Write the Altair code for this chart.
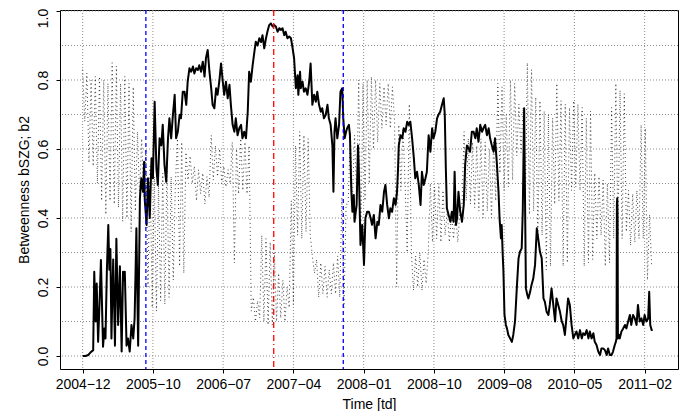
import json
import altair as alt
import pandas as pd

# ---- solid series: (trading day, value) ----
solid_points = [
    (0,0.0),(8,0.0),(16,0.003),(22,0.01),(30,0.017),(33,0.244),(37,0.10),(40,0.21),(44,0.041),(48,0.15),
    (52,0.278),(58,0.027),(62,0.08),(65,0.051),(69,0.25),(73,0.38),(76,0.25),(79,0.31),(82,0.051),(85,0.20),
    (87,0.28),(92,0.03),(96,0.34),(101,0.09),(106,0.26),(111,0.013),(115,0.244),(118,0.22),(120,0.244),(125,0.03),
    (129,0.051),(134,0.013),(139,0.09),(144,0.051),(148,0.11),(153,0.37),(158,0.03),(163,0.457),(167,0.515),(172,0.476),
    (175,0.563),(177,0.45),(182,0.38),(186,0.515),(191,0.40),(196,0.573),(200,0.515),(205,0.737),(210,0.544),(214,0.496),
    (219,0.631),(224,0.61),(228,0.670),(233,0.554),(238,0.505),(243,0.631),(247,0.689),(252,0.631),(257,0.699),(262,0.757),
    (266,0.631),(271,0.650),(276,0.699),(280,0.689),(285,0.766),(290,0.766),(295,0.728),(299,0.795),(304,0.834),(309,0.824),
    (314,0.839),(318,0.819),(323,0.834),(328,0.829),(332,0.843),(337,0.824),(342,0.853),(347,0.81),(351,0.863),(356,0.887),
    (361,0.824),(366,0.776),(370,0.728),(375,0.718),(380,0.776),(384,0.757),(389,0.795),(394,0.848),(399,0.795),(403,0.757),
    (408,0.795),(413,0.747),(418,0.786),(422,0.728),(427,0.670),(432,0.650),(436,0.689),(441,0.64),(446,0.66),(451,0.67),
    (455,0.631),(460,0.65),(465,0.631),(470,0.708),(474,0.824),(479,0.795),(484,0.843),(489,0.882),(493,0.911),(498,0.90),
    (503,0.921),(508,0.91),(512,0.930),
    (517,0.892),(522,0.921),(526,0.94),(531,0.959),(536,0.964),(541,0.955),(545,0.959),(550,0.955),(555,0.94),(560,0.95),
    (564,0.945),(569,0.95),(574,0.930),(578,0.94),(583,0.921),(588,0.926),(593,0.921),(597,0.897),(602,0.863),(607,0.776),
    (612,0.814),(614,0.757),(619,0.824),(621,0.776),(626,0.795),(630,0.766),(635,0.776),(640,0.757),(645,0.795),(649,0.848),
    (654,0.728),(659,0.757),(664,0.737),(668,0.766),(673,0.728),(678,0.708),(682,0.718),(687,0.689),(692,0.699),(697,0.728),
    (701,0.689),(706,0.670),(711,0.61),(714,0.476),(717,0.65),(720,0.689),(725,0.631),(730,0.670),(734,0.766),(739,0.776),
    (742,0.689),(746,0.631),(750,0.65),(753,0.66),(758,0.67),(761,0.64),(765,0.476),(768,0.418),(772,0.467),(774,0.389),
    (780,0.438),(784,0.61),(786,0.554),(791,0.322),(796,0.38),(801,0.264),(805,0.399),(810,0.418),
    (815,0.418),(820,0.399),(824,0.38),(829,0.409),(834,0.341),(839,0.389),(843,0.38),(848,0.438),(853,0.418),(858,0.476),
    (862,0.496),(867,0.438),(872,0.399),(876,0.428),(881,0.418),(886,0.457),(891,0.438),(895,0.476),(898,0.544),(900,0.61),
    (905,0.64),(910,0.631),(914,0.66),(919,0.65),(924,0.679),(928,0.67),(933,0.679),(938,0.631),(943,0.573),(947,0.515),
    (952,0.534),(957,0.496),(962,0.438),(966,0.534),(971,0.496),(976,0.515),(980,0.534),(985,0.64),(990,0.592),(995,0.66),
    (999,0.631),(1004,0.65),(1009,0.689),(1013,0.699),(1018,0.708),(1023,0.728),(1028,0.747),(1031,0.699),(1034,0.544),(1037,0.428),
    (1042,0.409),(1047,0.389),(1051,0.418),(1056,0.389),(1059,0.534),(1063,0.38),(1066,0.399),(1070,0.476),(1075,0.418),(1080,0.389),
    (1085,0.438),(1089,0.554),(1094,0.61),(1099,0.602),(1103,0.592),(1108,0.65),
    (1113,0.65),(1118,0.631),(1122,0.66),(1127,0.621),(1132,0.67),(1137,0.65),(1141,0.66),(1146,0.67),(1151,0.64),(1156,0.66),
    (1160,0.631),(1165,0.61),(1170,0.592),(1174,0.631),(1179,0.563),(1184,0.476),(1187,0.399),(1191,0.341),(1193,0.38),(1196,0.293),
    (1198,0.244),(1201,0.119),(1205,0.09),(1208,0.08),(1212,0.061),(1217,0.051),(1222,0.041),(1226,0.061),(1231,0.10),(1236,0.196),
    (1241,0.283),(1245,0.302),(1250,0.312),(1253,0.418),(1257,0.718),(1260,0.399),(1262,0.196),(1266,0.177),(1269,0.167),(1274,0.186),
    (1278,0.206),(1283,0.225),(1288,0.264),(1293,0.37),(1297,0.341),(1302,0.302),(1307,0.283),(1312,0.167),(1316,0.157),(1321,0.128),
    (1326,0.119),(1330,0.148),(1335,0.196),(1340,0.148),(1345,0.10),(1349,0.167),(1354,0.148),(1359,0.128),(1364,0.10),(1368,0.09),
    (1373,0.061),(1378,0.119),(1382,0.167),(1387,0.148),(1392,0.09),(1397,0.051),(1401,0.061),
    (1406,0.071),(1411,0.051),(1416,0.075),(1421,0.051),(1425,0.066),(1430,0.061),(1435,0.075),(1440,0.051),(1444,0.071),(1449,0.051),
    (1454,0.066),(1458,0.041),(1463,0.032),(1468,0.013),(1473,0.003),(1477,0.022),(1482,0.022),(1487,0.017),(1492,0.003),(1496,0.022),
    (1501,0.003),(1506,0.003),(1510,0.013),(1515,0.032),(1518,0.041),(1520,0.051),(1521,0.44),(1522,0.457),(1523,0.40),(1524,0.051),
    (1527,0.061),(1529,0.051),(1534,0.071),(1539,0.08),(1544,0.09),(1548,0.08),(1553,0.10),(1558,0.119),(1562,0.09),(1567,0.119),
    (1572,0.109),(1577,0.09),(1581,0.148),(1586,0.10),(1591,0.109),(1596,0.09),(1600,0.119),(1605,0.10),(1610,0.109),(1613,0.186),
    (1616,0.09),(1620,0.075),(1623,0.075),
]

# ---- dotted series: one value every 6 trading days ----
dotted_step = 6
dotted_val = [
    0.83, 0.68, 0.82,            # 0
    0.56, 0.80, 0.55,            # 18
    0.81, 0.50,                  # 36
    0.81, 0.45, 0.80,            # 48
    0.41, 0.79,                  # 66
    0.45, 0.85, 0.44, 0.84,      # 78
    0.43, 0.79,                  # 102
    0.39, 0.81,                  # 114
    0.40, 0.79, 0.36, 0.78, 0.42,  # 126
    0.65, 0.47, 0.63, 0.46, 0.60,  # 156
    0.20, 0.55, 0.14, 0.52, 0.13, 0.50,  # 186
    0.16, 0.53, 0.15, 0.55, 0.17, 0.52, 0.22,  # 222
    0.50,                        # 264
    0.63, 0.26, 0.62, 0.24,      # 270
    0.59, 0.51, 0.58, 0.50,      # 294
    0.55, 0.45, 0.54, 0.47, 0.53, 0.44, 0.52, 0.46,  # 318
    0.64,                        # 366
    0.51, 0.61, 0.52, 0.60, 0.50,  # 372
    0.55, 0.49, 0.54, 0.50,      # 402
    0.62, 0.27, 0.60,            # 426
    0.47, 0.63, 0.48, 0.62, 0.47,  # 444
    0.61,                        # 474
    0.13, 0.17, 0.10, 0.16, 0.11,  # 480
    0.35, 0.10, 0.34, 0.09,      # 510
    0.33, 0.09, 0.30,            # 534
    0.10, 0.24, 0.11, 0.22, 0.10, 0.20,  # 552
    0.14, 0.45, 0.15, 0.61,      # 588
    0.35, 0.65, 0.34, 0.64, 0.36, 0.63, 0.35,  # 612
    0.29, 0.24, 0.28,            # 654
    0.17, 0.27, 0.18, 0.26, 0.17, 0.25, 0.18, 0.27,  # 672
    0.18, 0.29, 0.17,            # 720
    0.46, 0.14, 0.44,            # 738
    0.44, 0.65, 0.45, 0.64, 0.46,  # 756
    0.80, 0.33, 0.79, 0.45, 0.80, 0.50, 0.81, 0.60,  # 786
    0.80, 0.62,                  # 834
    0.79, 0.66, 0.78, 0.67, 0.79, 0.66, 0.78, 0.68,  # 846
    0.20,                        # 894
    0.67, 0.48, 0.66, 0.50,      # 900
    0.30, 0.73, 0.30,            # 924
    0.19, 0.29, 0.20, 0.30, 0.19, 0.28, 0.21, 0.30,  # 942
    0.50, 0.33, 0.49, 0.34, 0.50, 0.33, 0.48, 0.35,  # 990
    0.42, 0.33, 0.41, 0.34, 0.42, 0.33, 0.42,  # 1038
    0.44, 0.65, 0.45, 0.63, 0.44, 0.62, 0.43, 0.61, 0.42,  # 1080
    0.63, 0.40, 0.62, 0.42, 0.60, 0.40, 0.62, 0.45,  # 1134
    0.79, 0.53, 0.78,            # 1182
    0.48, 0.70, 0.49,            # 1200
    0.80, 0.51, 0.79,            # 1218
    0.58, 0.73, 0.59, 0.72,      # 1236
    0.40, 0.85, 0.41, 0.83, 0.42,  # 1260
    0.75, 0.34, 0.74, 0.35,      # 1290
    0.71, 0.25, 0.70, 0.26, 0.69,  # 1314
    0.44, 0.79, 0.45,            # 1344
    0.74, 0.26, 0.73, 0.27, 0.72,  # 1362
    0.48, 0.74, 0.49, 0.73, 0.48, 0.72,  # 1392
    0.26, 0.69,                  # 1428
    0.27, 0.71, 0.28,            # 1440
    0.53, 0.34, 0.52, 0.35,      # 1458
    0.51, 0.26, 0.50, 0.27,      # 1482
    0.72, 0.34, 0.79, 0.35,      # 1506
    0.77, 0.34, 0.76, 0.36,      # 1530
    0.48, 0.32, 0.47, 0.33, 0.48, 0.34,  # 1554
    0.67, 0.34, 0.66,            # 1590
    0.22, 0.41, 0.26,            # 1608
]

tick_td = [0, 200, 400, 600, 800, 1000, 1200, 1400, 1600]
tick_lab = ["2004\u221212", "2005\u221210", "2006\u221207", "2007\u221204", "2008\u221201",
            "2008\u221210", "2009\u221208", "2010\u221205", "2011\u221202"]
y_ticks = [0.0, 0.2, 0.4, 0.6, 0.8, 1.0]
y_grid = [0.0, 0.1, 0.2, 0.3, 0.4, 0.5, 0.6, 0.7, 0.8, 0.9, 1.0]
blue_td = [180, 742]
red_td = [544]

solid_df = pd.DataFrame(solid_points, columns=["td", "v"])
dotted_df = pd.DataFrame({"td": [dotted_step * i for i in range(len(dotted_val))], "v": dotted_val})

W, H = 618, 359
xs = alt.Scale(domain=[-64.5, 1695], nice=False, zero=False)
ys = alt.Scale(domain=[-0.0377, 1.0029], nice=False, zero=False)
FONT = "Liberation Sans"

label_expr = "[" + ",".join(json.dumps(s, ensure_ascii=False) for s in tick_lab) + "][round(datum.value/200)]"

x_axis = alt.Axis(values=tick_td, labelExpr=label_expr, grid=False, domain=False,
                  tickSize=4, tickColor="black", labelPadding=15, labelBaseline="alphabetic",
                  labelFont=FONT, labelFontSize=14, labelColor="black", labelFlush=False,
                  labelOverlap=False, title="Time [td]", titleFont=FONT, titleFontSize=14,
                  titleFontWeight="normal", titleColor="black", titleX=W / 2, titleY=39,
                  titleBaseline="alphabetic", titleAlign="center")
y_axis = alt.Axis(values=y_ticks, format=".1f", grid=False, domain=False,
                  tickSize=4, tickColor="black", labelPadding=8.5, labelAngle=270,
                  labelAlign="center", labelBaseline="alphabetic", labelFont=FONT,
                  labelFontSize=14, labelColor="black", labelFlush=False, labelOverlap=False,
                  labelOffset={"condition": {"test": "datum.value > 0.99", "value": 7}, "value": 0},
                  title="Betweenness bSZG; b2", titleFont=FONT, titleFontSize=14,
                  titleFontWeight="normal", titleColor="black", titleAngle=270,
                  titleX=-32, titleY=H / 2, titleAlign="center", titleBaseline="alphabetic")

X = lambda: alt.X("td:Q", scale=xs, axis=x_axis)
Y = lambda: alt.Y("v:Q", scale=ys, axis=y_axis)

hgrid = alt.Chart(pd.DataFrame({"v": y_grid})).mark_rule(
    color="#8c8c8c", strokeWidth=1, strokeDash=[1, 2]
).encode(y=Y())

vgrid = alt.Chart(pd.DataFrame({"td": tick_td})).mark_rule(
    color="#8c8c8c", strokeWidth=1, strokeDash=[1, 2]
).encode(x=X())

dotted = alt.Chart(dotted_df).mark_line(
    color="#222222", strokeWidth=1, strokeDash=[1, 3], opacity=0.85
).encode(x=X(), y=Y())

solid = alt.Chart(solid_df).mark_line(
    color="black", strokeWidth=2, strokeJoin="round"
).encode(x=X(), y=Y())

blue = alt.Chart(pd.DataFrame({"td": blue_td})).mark_rule(
    color="#0000ff", strokeWidth=1.3, strokeDash=[4, 3]
).encode(x=X())

red = alt.Chart(pd.DataFrame({"td": red_td})).mark_rule(
    color="#ff0000", strokeWidth=1.3, strokeDash=[6, 3, 1, 3]
).encode(x=X())

chart = alt.layer(hgrid, vgrid, dotted, solid, blue, red).properties(
    width=W, height=H,
    autosize=alt.AutoSizeParams(type="none"),
    padding={"left": 52, "top": 2, "right": 5, "bottom": 42},
    background="white",
).configure_view(stroke="black", strokeWidth=1)

chart.save("out.html", embed_options={"renderer": "svg", "actions": False})
